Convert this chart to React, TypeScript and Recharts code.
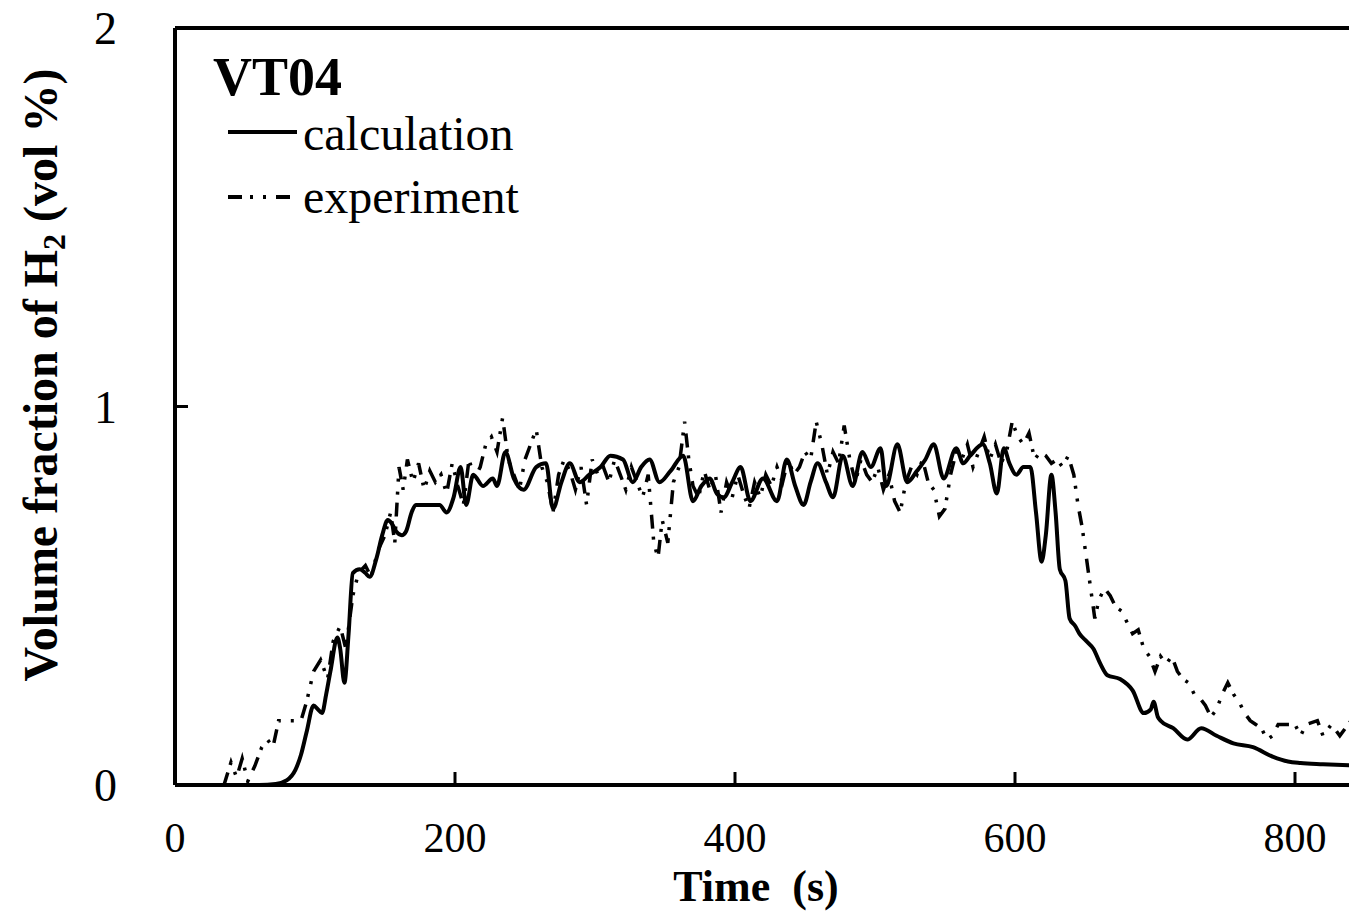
import React from 'react';
import { LineChart, Line, XAxis, YAxis, Legend, ReferenceLine, Label } from 'recharts';

// calculation curve (time s, vol %)
const calcTime = [0, 40, 60, 72, 80, 86, 90, 94, 99, 102, 105, 108, 111, 116, 118, 121, 124, 127, 132, 136, 139, 144, 148, 152, 155, 158, 162, 165, 169, 172, 180, 189, 194, 199, 204, 208, 213, 220, 227, 230, 236, 242, 249, 258, 265, 270, 276, 282, 289, 296, 304, 311, 320, 327, 333, 339, 346, 354, 363, 370, 376, 382, 387, 392, 398, 404, 411, 420, 430, 437, 443, 449, 454, 459, 465, 470, 477, 484, 491, 497, 504, 508, 516, 523, 530, 536, 542, 549, 558, 563, 568, 577, 582, 587, 592, 596, 601, 606, 611, 615, 619, 622, 626, 629, 632, 636, 639, 643, 646, 651, 656, 661, 666, 675, 684, 692, 697, 699, 702, 704, 713, 723, 733, 744, 756, 770, 784, 795, 804, 820, 840];
const calcValue = [0, 0, 0, 0.003, 0.013, 0.04, 0.08, 0.14, 0.21, 0.2, 0.19, 0.24, 0.3, 0.39, 0.36, 0.27, 0.4, 0.56, 0.57, 0.56, 0.55, 0.6, 0.66, 0.7, 0.69, 0.67, 0.66, 0.67, 0.72, 0.74, 0.74, 0.74, 0.72, 0.76, 0.84, 0.74, 0.82, 0.79, 0.81, 0.79, 0.88, 0.81, 0.78, 0.84, 0.85, 0.73, 0.8, 0.85, 0.8, 0.82, 0.84, 0.87, 0.86, 0.8, 0.84, 0.86, 0.8, 0.83, 0.87, 0.75, 0.79, 0.81, 0.77, 0.76, 0.8, 0.84, 0.75, 0.81, 0.75, 0.86, 0.79, 0.74, 0.8, 0.85, 0.8, 0.76, 0.87, 0.79, 0.88, 0.84, 0.89, 0.79, 0.9, 0.8, 0.83, 0.86, 0.9, 0.81, 0.89, 0.85, 0.87, 0.9, 0.85, 0.77, 0.89, 0.85, 0.82, 0.84, 0.84, 0.72, 0.59, 0.66, 0.82, 0.72, 0.57, 0.54, 0.44, 0.42, 0.4, 0.38, 0.36, 0.32, 0.29, 0.28, 0.25, 0.19, 0.2, 0.22, 0.18, 0.17, 0.15, 0.12, 0.15, 0.13, 0.11, 0.1, 0.075, 0.062, 0.058, 0.055, 0.052];

// experiment curve (time s, vol %)
const expTime = [0, 35, 40, 44, 48, 52, 57, 62, 66, 70, 74, 90, 94, 99, 104, 109, 113, 118, 122, 127, 131, 136, 140, 145, 150, 154, 157, 160, 163, 166, 170, 174, 178, 182, 186, 190, 194, 198, 202, 206, 210, 214, 218, 222, 226, 230, 234, 238, 242, 246, 250, 254, 258, 262, 266, 270, 274, 278, 282, 286, 290, 294, 298, 302, 306, 310, 314, 318, 322, 326, 330, 334, 338, 342, 345, 348, 352, 356, 360, 364, 367, 370, 374, 378, 382, 386, 390, 394, 398, 402, 406, 410, 414, 418, 422, 426, 430, 434, 438, 442, 446, 450, 454, 458, 462, 466, 470, 474, 478, 482, 486, 490, 494, 498, 502, 506, 510, 514, 518, 522, 526, 530, 534, 538, 542, 546, 550, 554, 558, 562, 566, 570, 574, 578, 582, 586, 590, 594, 598, 602, 606, 610, 614, 618, 622, 626, 630, 634, 638, 642, 645, 648, 651, 654, 657, 660, 664, 668, 672, 676, 680, 684, 688, 692, 696, 700, 704, 708, 712, 716, 720, 724, 728, 732, 736, 740, 744, 748, 752, 756, 760, 764, 768, 772, 776, 780, 784, 788, 800, 804, 808, 816, 820, 826, 832, 840];
const expValue = [0, 0, 0.06, 0.02, 0.07, 0.01, 0.05, 0.1, 0.12, 0.1, 0.17, 0.17, 0.22, 0.3, 0.33, 0.28, 0.38, 0.42, 0.36, 0.5, 0.56, 0.58, 0.55, 0.62, 0.66, 0.72, 0.64, 0.84, 0.78, 0.86, 0.8, 0.85, 0.78, 0.83, 0.8, 0.82, 0.77, 0.85, 0.79, 0.74, 0.86, 0.81, 0.84, 0.9, 0.92, 0.88, 0.97, 0.86, 0.82, 0.78, 0.86, 0.9, 0.94, 0.84, 0.8, 0.72, 0.82, 0.86, 0.83, 0.78, 0.84, 0.74, 0.86, 0.82, 0.84, 0.8, 0.86, 0.82, 0.78, 0.84, 0.8, 0.76, 0.82, 0.64, 0.6, 0.7, 0.64, 0.8, 0.84, 0.96, 0.86, 0.79, 0.76, 0.83, 0.78, 0.82, 0.72, 0.8, 0.76, 0.82, 0.77, 0.73, 0.8, 0.76, 0.82, 0.79, 0.84, 0.8, 0.86, 0.82, 0.84, 0.88, 0.86, 0.96, 0.9, 0.82, 0.88, 0.85, 0.95, 0.86, 0.8, 0.86, 0.82, 0.8, 0.84, 0.78, 0.82, 0.75, 0.72, 0.8, 0.84, 0.82, 0.86, 0.8, 0.78, 0.71, 0.73, 0.82, 0.88, 0.86, 0.9, 0.84, 0.88, 0.92, 0.86, 0.9, 0.85, 0.88, 0.96, 0.92, 0.9, 0.93, 0.86, 0.88, 0.87, 0.85, 0.86, 0.84, 0.87, 0.82, 0.74, 0.68, 0.6, 0.52, 0.44, 0.49, 0.52, 0.5, 0.47, 0.46, 0.43, 0.4, 0.41, 0.36, 0.34, 0.3, 0.34, 0.32, 0.34, 0.3, 0.28, 0.27, 0.24, 0.23, 0.21, 0.18, 0.2, 0.24, 0.27, 0.24, 0.22, 0.19, 0.17, 0.16, 0.15, 0.12, 0.13, 0.16, 0.16, 0.13, 0.16, 0.17, 0.13, 0.16, 0.13, 0.17];

const xTicks = [0, 200, 400, 600, 800];
const yTicks = [0, 1, 2];

const calcData = calcTime.map((t, i) => ({ t, v: calcValue[i] }));
const expData = expTime.map((t, i) => ({ t, v: expValue[i] }));

const serif = 'Liberation Serif, Times New Roman, serif';
const expDash = '14 8 3 10 3 10';

const YTitle = () => (
  <text
    x={57}
    y={375}
    transform="rotate(-90, 57, 375)"
    textAnchor="middle"
    fontFamily={serif}
    fontSize={48}
    fontWeight="bold"
    fill="#000"
  >
    Volume fraction of H
    <tspan fontSize={32} dy={8}>2</tspan>
    <tspan dy={-8}> (vol %)</tspan>
  </text>
);

const XTitle = () => (
  <text x={756} y={901} textAnchor="middle" fontFamily={serif} fontSize={44} fontWeight="bold" fill="#000">
    {'Time\u00A0\u00A0(s)'}
  </text>
);

const LegendBox = () => (
  <svg width={400} height={200} style={{ display: 'block' }}>
    <text x={13} y={55} fontFamily={serif} fontSize={54} fontWeight="bold" fill="#000">VT04</text>
    <line x1={28} y1={92} x2={97} y2={92} stroke="#000" strokeWidth={4} />
    <text x={103} y={110} fontFamily={serif} fontSize={48} fill="#000">calculation</text>
    <line x1={28} y1={157} x2={97} y2={157} stroke="#000" strokeWidth={4} strokeDasharray={expDash} />
    <text x={103} y={173} fontFamily={serif} fontSize={48} fill="#000">experiment</text>
  </svg>
);

export default function App() {
  return (
    <div style={{ position: 'absolute', left: 0, top: 0, width: 1349, height: 915, overflow: 'hidden', background: '#fff' }}>
      <LineChart width={1400} height={915} margin={{ top: 28, right: 49, left: 0, bottom: 0 }}>
        <XAxis
          dataKey="t"
          type="number"
          domain={[0, 840]}
          ticks={xTicks}
          interval={0}
          allowDataOverflow
          height={130}
          tickSize={-13}
          tickMargin={50}
          axisLine={{ stroke: '#000', strokeWidth: 4 }}
          tickLine={{ stroke: '#000', strokeWidth: 3 }}
          tick={{ fill: '#000', fontSize: 42, fontFamily: serif }}
        >
          <Label content={XTitle} />
        </XAxis>
        <YAxis
          type="number"
          domain={[0, 2]}
          ticks={yTicks}
          interval={0}
          allowDataOverflow
          width={175}
          tickSize={-13}
          tickMargin={71}
          axisLine={{ stroke: '#000', strokeWidth: 4 }}
          tickLine={{ stroke: '#000', strokeWidth: 3 }}
          tick={{ fill: '#000', fontSize: 46, fontFamily: serif }}
        >
          <Label content={YTitle} />
        </YAxis>
        <ReferenceLine y={2} stroke="#000" strokeWidth={4} />
        <Legend
          layout="vertical"
          align="center"
          verticalAlign="middle"
          content={LegendBox}
          wrapperStyle={{ left: 200, top: 40, width: 400, height: 200 }}
        />
        <Line
          data={expData}
          dataKey="v"
          type="linear"
          stroke="#000"
          strokeWidth={3.5}
          strokeDasharray={expDash}
          dot={false}
          activeDot={false}
          isAnimationActive={false}
        />
        <Line
          data={calcData}
          dataKey="v"
          type="monotone"
          stroke="#000"
          strokeWidth={4}
          dot={false}
          activeDot={false}
          isAnimationActive={false}
        />
      </LineChart>
    </div>
  );
}
